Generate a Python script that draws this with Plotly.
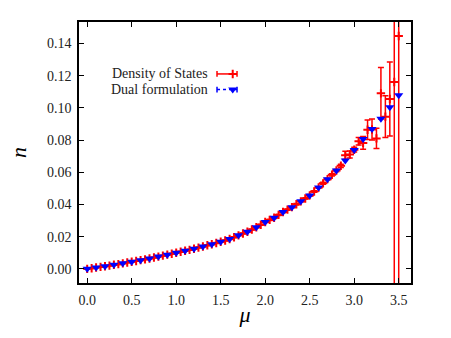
import plotly.graph_objects as go

# Dual formulation, mu step 0.1
dual_mu = [round(0.1 * i, 2) for i in range(36)]
dual_n = [
    0.0000, 0.0008, 0.0016, 0.0025, 0.0034, 0.0044, 0.0054, 0.0064, 0.0076, 0.0088,
    0.0100, 0.0112, 0.0125, 0.0139, 0.0153, 0.0168, 0.0185, 0.0208, 0.0230, 0.0258,
    0.0291, 0.0317, 0.0353, 0.0383, 0.0419, 0.0456, 0.0505, 0.0557, 0.0611, 0.0673,
    0.0738, 0.0806, 0.0868, 0.0932, 0.1003, 0.1078,
]
dual_err = [0.0001] * 36

# Density of States, mu step 0.05
dos_mu = [round(0.05 * i, 2) for i in range(71)]
dos_n = [
    0.0000, 0.0004, 0.0008, 0.0012, 0.0016, 0.0020, 0.0025, 0.0029, 0.0034, 0.0039,
    0.0044, 0.0049, 0.0054, 0.0059, 0.0064, 0.0070, 0.0076, 0.0082, 0.0088, 0.0094,
    0.0100, 0.0106, 0.0112, 0.0118, 0.0125, 0.0132, 0.0139, 0.0146, 0.0153, 0.0160,
    0.0168, 0.0176, 0.0185, 0.0196, 0.0208, 0.0219, 0.0230, 0.0244, 0.0258, 0.0274,
    0.0291, 0.0304, 0.0317, 0.0335, 0.0353, 0.0368, 0.0383, 0.0401, 0.0419, 0.0437,
    0.0456, 0.0480, 0.0505, 0.0531, 0.0557, 0.0584, 0.0611, 0.0640, 0.0705, 0.0710,
    0.0740, 0.0792, 0.0782, 0.0864, 0.0865, 0.0810, 0.1090, 0.0945, 0.1055, 0.1160,
    0.1446,
]
dos_err = [
    0.0002, 0.0002, 0.0002, 0.0002, 0.0002, 0.0002, 0.0002, 0.0002, 0.0002, 0.0002,
    0.0002, 0.0002, 0.0002, 0.0002, 0.0002, 0.0002, 0.0002, 0.0002, 0.0002, 0.0002,
    0.0003, 0.0003, 0.0003, 0.0003, 0.0003, 0.0003, 0.0003, 0.0003, 0.0003, 0.0003,
    0.0003, 0.0003, 0.0003, 0.0003, 0.0003, 0.0003, 0.0003, 0.0003, 0.0003, 0.0003,
    0.0004, 0.0004, 0.0004, 0.0004, 0.0004, 0.0004, 0.0004, 0.0004, 0.0004, 0.0004,
    0.0005, 0.0005, 0.0005, 0.0006, 0.0006, 0.0007, 0.0008, 0.0010, 0.0025, 0.0022,
    0.0015, 0.0023, 0.0040, 0.0060, 0.0065, 0.0063, 0.0160, 0.0130, 0.0230, 0.2000,
    0.2000,
]

RED = "#ff0000"
BLUE = "#0000ff"
SERIF = "Liberation Serif"

fig = go.Figure()

fig.add_trace(
    go.Scatter(
        x=dos_mu,
        y=dos_n,
        mode="markers",
        name="Density of States",
        marker={"symbol": "cross-thin", "size": 6, "color": RED, "line": {"width": 2, "color": RED}},
        error_y={"type": "data", "array": dos_err, "color": RED, "thickness": 1.5, "width": 3},
        showlegend=False,
    )
)
fig.add_trace(
    go.Scatter(
        x=dual_mu,
        y=dual_n,
        mode="markers",
        name="Dual formulation",
        marker={"symbol": "triangle-down", "size": 8, "color": BLUE},
        error_y={"type": "data", "array": dual_err, "color": BLUE, "thickness": 1, "width": 2},
        showlegend=False,
    )
)

# hand-made legend (text left, sample right, like the original)
lx0, lx1, lxm = 0.4157, 0.476, 0.463
ly_red, ly_blue = 0.801, 0.741
fig.add_trace(
    go.Scatter(
        x=[lx0, lx1], y=[ly_red, ly_red], mode="lines",
        line={"color": RED, "width": 1.5},
        error_y={"type": "constant", "value": 0.011, "color": RED, "thickness": 1.5, "width": 0},
        xaxis="x2", yaxis="y2", showlegend=False, hoverinfo="skip",
    )
)
fig.add_trace(
    go.Scatter(
        x=[lxm], y=[ly_red], mode="markers",
        marker={"symbol": "cross-thin", "size": 6, "color": RED, "line": {"width": 2, "color": RED}},
        xaxis="x2", yaxis="y2", showlegend=False, hoverinfo="skip",
    )
)
fig.add_trace(
    go.Scatter(
        x=[lx0, lx1], y=[ly_blue, ly_blue], mode="lines",
        line={"color": BLUE, "width": 1.5, "dash": "dot"},
        error_y={"type": "constant", "value": 0.011, "color": BLUE, "thickness": 1.5, "width": 0},
        xaxis="x2", yaxis="y2", showlegend=False, hoverinfo="skip",
    )
)
fig.add_trace(
    go.Scatter(
        x=[lxm], y=[ly_blue], mode="markers",
        marker={"symbol": "triangle-down", "size": 8, "color": BLUE},
        xaxis="x2", yaxis="y2", showlegend=False, hoverinfo="skip",
    )
)
for label, ly in (("Density of States", ly_red), ("Dual formulation", ly_blue)):
    fig.add_annotation(
        text=label, x=0.395, y=ly, xref="paper", yref="paper",
        xanchor="right", yanchor="middle", showarrow=False,
        font={"family": SERIF, "size": 14, "color": "#222222"},
    )

axis_common = dict(
    showline=True, linecolor="black", linewidth=1.5, mirror="ticks",
    ticks="inside", ticklen=5, tickwidth=1, tickcolor="black",
    showgrid=False, zeroline=False, ticklabelstandoff=3,
    tickfont={"family": SERIF, "size": 14, "color": "#222222"},
)
fig.update_layout(
    width=451,
    height=338,
    margin={"l": 79, "r": 40, "t": 22, "b": 55},
    paper_bgcolor="white",
    plot_bgcolor="white",
    xaxis=dict(
        axis_common, range=[-0.092, 3.638], tickvals=[0, 0.5, 1, 1.5, 2, 2.5, 3, 3.5],
        tickformat=".1f",
        title={"text": "<i>μ</i>", "font": {"family": SERIF, "size": 22, "color": "black"}, "standoff": 0},
    ),
    yaxis=dict(
        axis_common, range=[-0.0088, 0.1533], dtick=0.02, tick0=0, tickformat=".2f",
        title={"text": "<i>n</i>", "font": {"family": SERIF, "size": 22, "color": "black"}, "standoff": 14},
    ),
    xaxis2={"overlaying": "x", "range": [0, 1], "visible": False},
    yaxis2={"overlaying": "y", "range": [0, 1], "visible": False},
)

fig.write_html(
    "out.html",
    config={"displayModeBar": False},
    post_script="document.body.style.margin='0px';",
)
